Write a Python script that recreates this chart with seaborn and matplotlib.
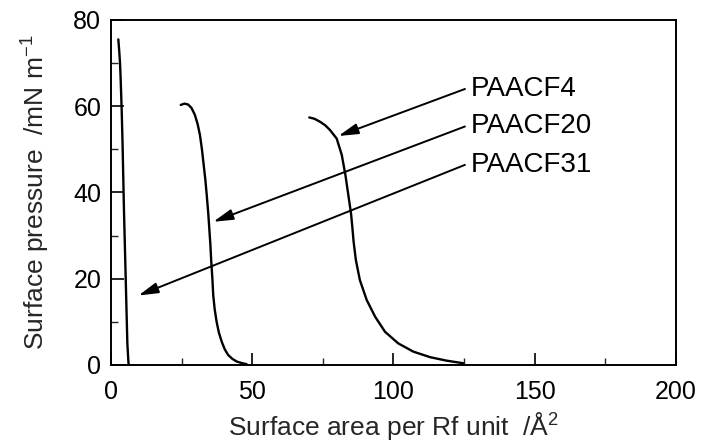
import numpy as np
import pandas as pd
import matplotlib
matplotlib.use("Agg")
import matplotlib.pyplot as plt
import seaborn as sns
from matplotlib.ticker import MultipleLocator

# pi-A isotherms (area / A^2, pressure / mN m^-1)
area_f31 = [2.6, 2.9, 3.2, 3.4, 3.8, 4.1, 4.6, 5.2, 5.8, 6.2, 6.4]
pres_f31 = [75.5, 73.0, 70.0, 66.9, 59.0, 51.4, 35.9, 20.5, 5.0, 0.4, 0.0]

area_f20 = [24.7, 26.0, 27.3, 28.5, 29.7, 30.7, 31.5, 32.2, 32.7, 33.4,
            33.9, 34.4, 34.8, 35.2, 35.5, 35.9, 36.2, 36.7, 37.4, 38.2,
            39.2, 40.3, 41.5, 43.0, 44.5, 46.5, 48.0]
pres_f20 = [60.3, 60.6, 60.4, 59.6, 58.0, 55.8, 53.3, 50.0, 47.1, 43.0,
            39.4, 35.5, 31.7, 27.8, 24.0, 20.0, 16.2, 13.0, 10.0, 7.5,
            5.4, 3.6, 2.3, 1.4, 0.8, 0.4, 0.2]

area_f4 = [70.2, 72.0, 74.0, 75.8, 77.5, 79.9, 81.7, 83.0, 84.0, 85.0,
           85.5, 85.9, 86.7, 88.1, 90.5, 93.5, 97.0, 101.7, 107.0, 113.0,
           118.8, 124.7]
pres_f4 = [57.4, 57.1, 56.4, 55.6, 54.5, 52.5, 48.7, 44.0, 39.5, 35.0,
           31.5, 28.5, 24.3, 19.7, 15.1, 11.2, 7.7, 5.0, 3.1, 1.8,
           1.0, 0.4]

labels = ["PAACF4", "PAACF20", "PAACF31"]
label_x = [127.5, 127.5, 127.5]
label_y = [64.0, 55.3, 46.4]
arrow_start_x = [125.3, 125.3, 125.3]
arrow_tip_x = [80.5, 36.2, 9.7]
arrow_tip_y = [53.1, 33.2, 16.1]

x_ticks = [0, 50, 100, 150, 200]
y_ticks = [0, 20, 40, 60, 80]

sns.set_theme(style="ticks")
plt.rcParams["font.family"] = ["Liberation Sans", "DejaVu Sans"]
plt.rcParams["mathtext.default"] = "regular"

df = pd.concat([
    pd.DataFrame({"area": area_f4, "pressure": pres_f4, "sample": "PAACF4"}),
    pd.DataFrame({"area": area_f20, "pressure": pres_f20, "sample": "PAACF20"}),
    pd.DataFrame({"area": area_f31, "pressure": pres_f31, "sample": "PAACF31"}),
])

fig = plt.figure(figsize=(7.01, 4.44), dpi=100)
ax = fig.add_axes([0.1583, 0.178, 0.806, 0.777])

sns.lineplot(data=df, x="area", y="pressure", units="sample", estimator=None,
             sort=False, color="black", linewidth=1.7, ax=ax,
             solid_joinstyle="round", solid_capstyle="round")

for lab, lx, ly, sx, tx, ty in zip(labels, label_x, label_y, arrow_start_x,
                                   arrow_tip_x, arrow_tip_y):
    ax.annotate("", xy=(tx, ty), xytext=(sx, ly),
                arrowprops=dict(arrowstyle="-|>,head_length=1.0,head_width=0.27",
                                color="black", lw=1.4, shrinkA=0, shrinkB=0))
    ax.text(lx, ly, lab, ha="left", va="center", fontsize=20, color="black")

ax.set_xlim(0, 200)
ax.set_ylim(0, 80)
ax.set_xticks(x_ticks)
ax.set_yticks(y_ticks)
ax.xaxis.set_minor_locator(MultipleLocator(25))
ax.yaxis.set_minor_locator(MultipleLocator(10))
ax.tick_params(which="major", direction="in", length=9, width=1.2,
               labelsize=18, colors="black")
ax.tick_params(axis="x", which="major", pad=11)
ax.tick_params(axis="y", which="major", pad=7)
ax.tick_params(which="minor", direction="in", length=5, width=1.0)
for sp in ax.spines.values():
    sp.set_linewidth(1.4)
    sp.set_color("black")

ax.set_xlabel("Surface area per Rf unit  /Å$^2$", fontsize=19, labelpad=4)
ax.set_ylabel("Surface pressure  /mN m$^{-1}$", fontsize=19, labelpad=15)
if ax.get_legend() is not None:
    ax.get_legend().remove()

fig.savefig("out.png", dpi=100)
